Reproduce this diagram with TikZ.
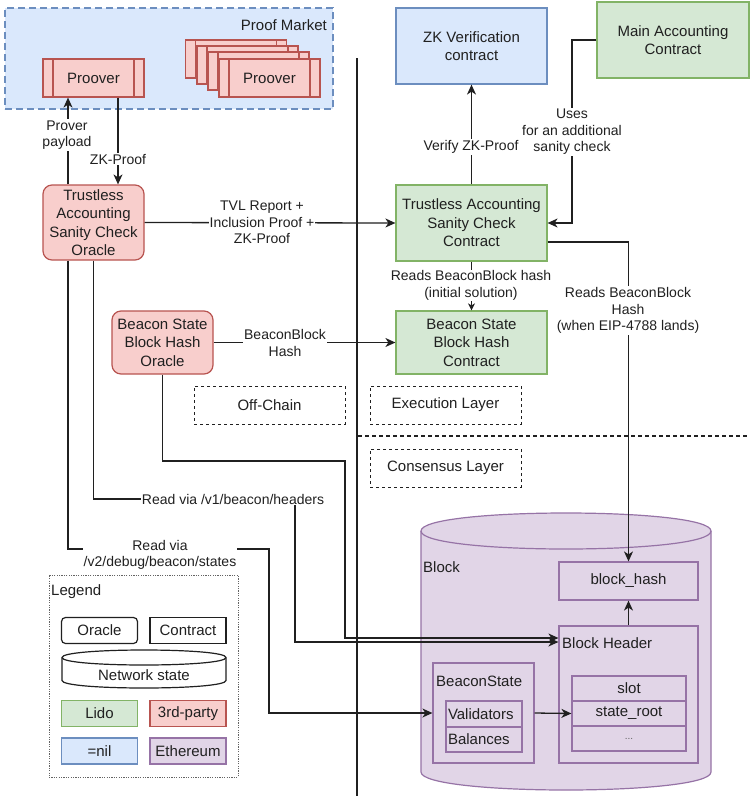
\documentclass[tikz,border=0pt]{standalone}
\usepackage{fontspec}
\setmainfont{Liberation Sans}
\usetikzlibrary{arrows.meta,shapes.geometric}
\definecolor{bluefill}{HTML}{DAE8FC}
\definecolor{blueline}{HTML}{6C8EBF}
\definecolor{greenfill}{HTML}{D5E8D4}
\definecolor{greenline}{HTML}{82B366}
\definecolor{redfill}{HTML}{F8CECC}
\definecolor{redline}{HTML}{B85450}
\definecolor{purpfill}{HTML}{E1D5E7}
\definecolor{purpline}{HTML}{9673A6}
\definecolor{ink}{HTML}{202020}
\tikzset{
  base/.style={draw, line width=1.2pt, inner sep=1pt, align=center, text=ink,
    font=\fontsize{15}{18.5}\selectfont},
  redround/.style={base, fill=redfill, draw=redline, rounded corners=9pt},
  greenbox/.style={base, fill=greenfill, draw=greenline},
  bluebox/.style={base, fill=bluefill, draw=blueline},
  purpbox/.style={base, fill=purpfill, draw=purpline},
  redproc/.style={base, fill=redfill, draw=redline, minimum width=101pt, minimum height=38pt,
    path picture={
      \draw[redline, line width=1.2pt]
        ([xshift=10pt]path picture bounding box.north west) --
        ([xshift=10pt]path picture bounding box.south west);
      \draw[redline, line width=1.2pt]
        ([xshift=-10pt]path picture bounding box.north east) --
        ([xshift=-10pt]path picture bounding box.south east);}},
  layerbox/.style={base, draw=ink, line width=1pt, dash pattern=on 3pt off 3pt, minimum width=151pt, minimum height=38pt},
  lgbox/.style={base, draw=ink, minimum width=76pt, minimum height=26pt},
  txt/.style={inner sep=0pt, text=ink, font=\fontsize{15}{18.5}\selectfont},
  lbl/.style={fill=white, inner sep=1pt, align=center, text=ink,
    font=\fontsize{14}{16.5}\selectfont},
  ln/.style={draw=ink, line width=1.3pt},
  arr/.style={ln, -{Stealth[length=10pt,width=9pt,inset=3pt]}},
  sarr/.style={ln, -{Stealth[length=7pt,width=7pt,inset=2pt]}},
}
\begin{document}
\begin{tikzpicture}[x=1pt,y=-1pt]
\useasboundingbox (0,0) rectangle (750,796);
\fill[white] (0,0) rectangle (750,796);

% Proof market
\node[base, fill=bluefill, draw=blueline, dash pattern=on 7pt off 4pt, minimum width=328pt, minimum height=101pt] (pm) at (169,58.5) {};
\node[txt, anchor=east] (pmlabel) at (327,25) {Proof Market};
\node[redproc] (pv1) at (93.5,78) {Proover};
\node[redproc] (pa) at (236,59) {};
\node[redproc] (pb) at (247.5,65) {};
\node[redproc] (pc) at (258.5,71) {};
\node[redproc] (pv2) at (269.5,78) {Proover};

% separators
\draw[ln] (357,58) -- (357,796);
\draw[ln, line width=1.1pt, dash pattern=on 4pt off 3pt] (358,436) -- (750,436);

% off-chain nodes
\node[redround, minimum width=101pt, minimum height=75pt] (oracle) at (93.5,222.5) {Trustless\\Accounting\\Sanity Check\\Oracle};
\node[redround, minimum width=101pt, minimum height=63pt] (bsbho) at (162.5,342.5) {Beacon State\\Block Hash\\Oracle};

% execution nodes
\node[bluebox, minimum width=151pt, minimum height=76pt] (zk) at (471.5,46) {ZK Verification\\contract};
\node[greenbox, minimum width=152pt, minimum height=76pt] (main) at (673,40) {Main Accounting\\Contract};
\node[greenbox, minimum width=151pt, minimum height=76pt] (tascc) at (471.5,223) {Trustless Accounting\\Sanity Check\\Contract};
\node[greenbox, minimum width=151pt, minimum height=63pt] (bsbhc) at (471.5,342.5) {Beacon State\\Block Hash\\Contract};

% layer boxes
\node[layerbox] (offchain) at (269.5,405) {Off-Chain};
\node[layerbox] (exec) at (445.5,405) {Execution Layer};
\node[layerbox] (cons) at (445.5,468) {Consensus Layer};

% block cylinder
\path[fill=purpfill, draw=purpline, line width=1.2pt]
  (421,531) -- (421,772) .. controls (421,796) and (711,796) .. (711,772)
  -- (711,531) .. controls (711,507) and (421,507) .. (421,531) -- cycle;
\draw[purpline, line width=1.2pt] (421,531) .. controls (421,555) and (711,555) .. (711,531);
\node[txt, anchor=west] (blocklbl) at (423,567) {Block};

\node[purpbox, minimum width=139pt, minimum height=38pt] (blockhash) at (628.5,581) {block\_hash};
\node[purpbox, minimum width=139pt, minimum height=137pt] (header) at (628.5,694.5) {};
\node[txt, anchor=west] (headerlbl) at (562,643) {Block Header};
\node[purpbox, minimum width=114pt, minimum height=25pt] (slot) at (629,688.5) {slot};
\node[purpbox, minimum width=114pt, minimum height=25pt] (stroot) at (629,713.5) {state\_root};
\node[purpbox, minimum width=114pt, minimum height=25pt, font=\fontsize{10}{12}\selectfont, text=ink!70] (dots) at (629,738.5) {...};
\node[purpbox, minimum width=101pt, minimum height=100pt] (bstate) at (483.5,713) {};
\node[txt, anchor=west] (bstatelbl) at (436,681) {BeaconState};
\node[purpbox, minimum width=76pt, minimum height=26pt, text width=72pt, inner xsep=2pt, align=left] (valid) at (484,714) {Validators};
\node[purpbox, minimum width=76pt, minimum height=25pt, text width=72pt, inner xsep=2pt, align=left] (bal) at (484,739.5) {Balances};

% connectors
\draw[arr] (oracle.north -| 68,0) -- (pv1.south -| 68,0);
\node[lbl] (l1) at (67,135) {Prover\\payload};
\draw[arr] (pv1.south -| 118,0) -- (oracle.north -| 118,0);
\node[lbl] (l2) at (118,159) {ZK-Proof};
\draw[arr] (oracle.east) -- (tascc.west);
\node[lbl] (l3) at (262,222.5) {TVL Report +\\Inclusion Proof +\\ZK-Proof};
\draw[arr] (tascc.north) -- (zk.south);
\node[lbl] (l4) at (471,147) {Verify ZK-Proof};
\draw[arr] (main.west) -| (572,132) |- (tascc.east);
\node[lbl] (l5) at (572,132) {Uses\\for an additional\\sanity check};
\draw[sarr] (tascc.south) -- (bsbhc.north);
\node[lbl] (l6) at (471,285.5) {Reads BeaconBlock hash\\(initial solution)};
\draw[arr] (tascc.east |- 0,242) -| (blockhash.north);
\node[lbl] (l7) at (628,310.5) {Reads BeaconBlock\\Hash\\(when EIP-4788 lands)};
\draw[arr] (bsbho.east) -- (bsbhc.west);
\node[lbl] (l8) at (285,343) {BeaconBlock\\Hash};
\draw[arr] (bsbho.south) |- (345,461) |- (header.west |- 0,638);
\draw[arr] (oracle.south) |- (295,499) |- (header.west |- 0,642);
\node[lbl] (l9) at (233,499) {Read via /v1/beacon/headers};
\draw[arr] (oracle.south -| 68,0) |- (269,549) |- (bstate.west);
\node[lbl] (l10) at (160,555) {Read via\\/v2/debug/beacon/states};
\draw[arr] (header.north) -- (blockhash.south);
\draw[arr] (bstate.east) -- (stroot.west);

% legend
\node[draw=ink!70, line width=0.7pt, dash pattern=on 1.2pt off 1.2pt, minimum width=189pt, minimum height=202pt] (legend) at (143.5,676) {};
\node[txt, anchor=west] (legendlbl) at (51,592) {Legend};
\node[lgbox, fill=white, rounded corners=4pt] (lgor) at (99.5,630.5) {Oracle};
\node[lgbox, fill=white] (lgct) at (188,630.5) {Contract};
\path[fill=white, draw=ink, line width=1.2pt]
  (62,657.5) -- (62,680.5) .. controls (62,690.5) and (226,690.5) .. (226,680.5)
  -- (226,657.5) .. controls (226,647.5) and (62,647.5) .. (62,657.5) -- cycle;
\draw[ink, line width=1.2pt] (62,657.5) .. controls (62,667.5) and (226,667.5) .. (226,657.5);
\node[txt] (lgns) at (144,675.5) {Network state};
\node[lgbox, fill=greenfill, draw=greenline] (lglido) at (99.5,713.5) {Lido};
\node[lgbox, fill=redfill, draw=redline] (lg3rd) at (188,713.5) {3rd-party};
\node[lgbox, fill=bluefill, draw=blueline] (lgnil) at (99.5,751) {=nil};
\node[lgbox, fill=purpfill, draw=purpline] (lgeth) at (188,751) {Ethereum};
\end{tikzpicture}
\end{document}
